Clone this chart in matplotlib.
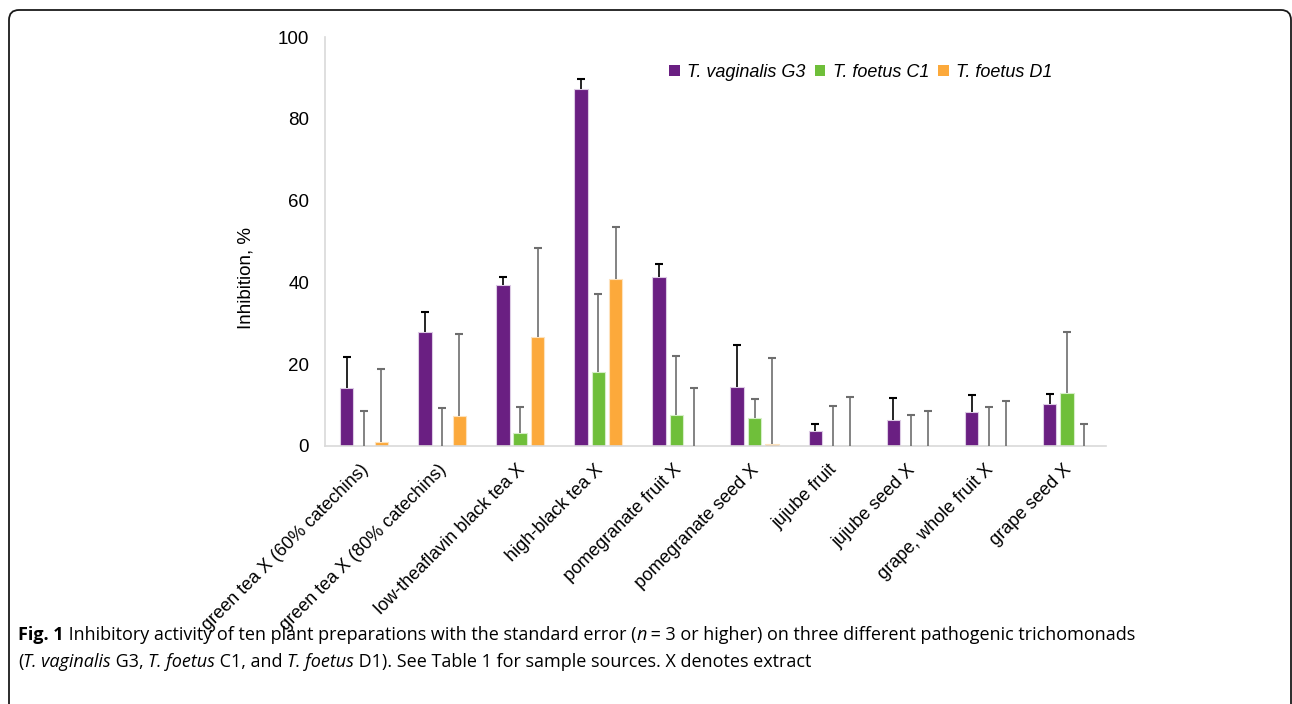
import numpy as np
import matplotlib
matplotlib.use('Agg')
import matplotlib.pyplot as plt
from matplotlib.patches import FancyBboxPatch, Patch
from matplotlib.transforms import IdentityTransform, ScaledTranslation

# 데이터
categories = ['green tea X (60% catechins)', 'green tea X (80% catechins)',
              'low-theaflavin black tea X', 'high-black tea X', 'pomegranate fruit X',
              'pomegranate seed X', 'jujube fruit', 'jujube seed X',
              'grape, whole fruit X', 'grape seed X']
series = ['T. vaginalis G3', 'T. foetus C1', 'T. foetus D1']
g3 = [14.3, 27.8, 39.4, 87.2, 41.2, 14.4, 3.6, 6.3, 8.3, 10.3]
g3_se = [7.5, 5.0, 2.0, 2.6, 3.3, 10.2, 1.8, 5.4, 4.1, 2.4]
c1 = [0, 0, 3.2, 18.2, 7.6, 6.9, 0, 0, 0, 13.0]
c1_se = [8.5, 9.4, 6.3, 19.0, 14.5, 4.5, 9.9, 7.5, 9.6, 14.9]
d1 = [0.9, 7.3, 26.7, 40.9, 0, 0.5, 0, 0, 0, 0]
d1_se = [17.9, 20.0, 21.7, 12.7, 14.2, 21.0, 12.1, 8.6, 11.1, 5.3]

colors = ['#6a1f82', '#6fbf3a', '#fca93b']
edges = ['#dccbe4', '#d6eec8', '#fde2bd']
err_colors = ['#000000', '#6e6e6e', '#6e6e6e']

plt.rcParams['font.family'] = ['Liberation Sans', 'DejaVu Sans']

fig = plt.figure(figsize=(12.92, 7.04), dpi=100)
ax = fig.add_axes([325 / 1292, 1 - 446 / 704, 781 / 1292, 409 / 704])

x = np.arange(len(categories))
offsets = [-0.222, 0, 0.222]
width = 0.173
for vals, se, off, c, ec, erc in zip([g3, c1, d1], [g3_se, c1_se, d1_se],
                                     offsets, colors, edges, err_colors):
    vals = np.array(vals)
    tops = vals + np.array(se)
    ax.bar(x + off, vals, width, color=c, edgecolor=ec, linewidth=0.8, zorder=2)
    # 위쪽 표준오차만 표시
    ax.vlines(x + off, vals, tops, color=erc, linewidth=1.2, zorder=3)
    ax.plot(x + off, tops, linestyle='none', marker='_', markersize=6,
            markeredgewidth=1.5, color=erc, zorder=3)

ax.set_xlim(-0.5, len(categories) - 0.5)
ax.set_ylim(0, 100)
ax.set_yticks(np.arange(0, 101, 20))
ax.set_xticks(x)
ax.set_xticklabels(categories, rotation=45, ha='right', fontsize=13)
ax.tick_params(axis='y', length=0, pad=11.5, labelsize=13.5)
ax.tick_params(axis='x', length=0, pad=11)
shift = ScaledTranslation(8 / 100, 0, fig.dpi_scale_trans)
for lab in ax.get_xticklabels():
    lab.set_transform(lab.get_transform() + shift)
for s in ['top', 'right']:
    ax.spines[s].set_visible(False)
for s in ['left', 'bottom']:
    ax.spines[s].set_color('#d9d9d9')
    ax.spines[s].set_linewidth(1.2)

fig.text(246 / 1292, 1 - 278 / 704, 'Inhibition, %', rotation=90,
         ha='center', va='center', fontsize=13.5)

handles = [Patch(facecolor=c, edgecolor='none') for c in colors]
ax.legend(handles, series, loc='center', bbox_to_anchor=(0.686, 0.914), ncol=3,
          frameon=False, prop={'style': 'italic', 'size': 13},
          handlelength=0.6, handleheight=0.6, handletextpad=0.4,
          columnspacing=0.5, borderpad=0)

# 테두리 (둥근 모서리)
frame = FancyBboxPatch((9, -20), 1282, 714, boxstyle='round,pad=0,rounding_size=10',
                       transform=IdentityTransform(), fill=False,
                       edgecolor='#1a1a1a', linewidth=1.3)
fig.add_artist(frame)

# 캡션
cap_family = ['Open Sans', 'DejaVu Sans']
fig.canvas.draw()
renderer = fig.canvas.get_renderer()


def draw_line(x0, y0, pieces, size):
    xx = x0
    for txt, weight, style in pieces:
        t = fig.text(xx, y0, txt, transform=IdentityTransform(), fontsize=size,
                     family=cap_family, weight=weight, style=style,
                     va='baseline', ha='left')
        xx += t.get_window_extent(renderer).width


line1 = [('Fig. 1', 'bold', 'normal'),
         (' Inhibitory activity of ten plant preparations with the standard error (', 'normal', 'normal'),
         ('n', 'normal', 'italic'),
         (' = 3 or higher) on three different pathogenic trichomonads', 'normal', 'normal')]
line2 = [('(', 'normal', 'normal'), ('T. vaginalis', 'normal', 'italic'),
         (' G3, ', 'normal', 'normal'), ('T. foetus', 'normal', 'italic'),
         (' C1, and ', 'normal', 'normal'), ('T. foetus', 'normal', 'italic'),
         (' D1). See Table 1 for sample sources. X denotes extract', 'normal', 'normal')]
draw_line(18, 704 - 640, line1, 13)
draw_line(18, 704 - 667, line2, 13)

fig.savefig('out.png', dpi=100)
